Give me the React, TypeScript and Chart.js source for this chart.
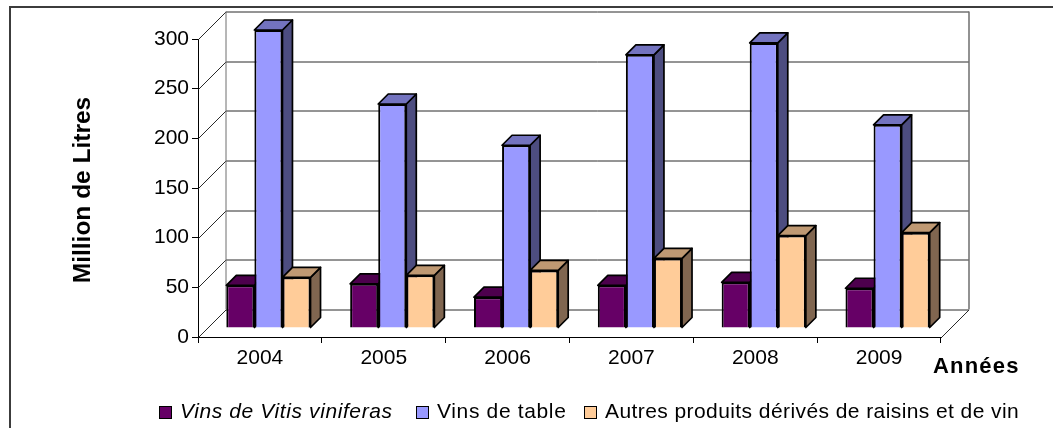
import React, { useEffect, useRef } from "react";
import { Chart, registerables } from "chart.js";

Chart.register(...registerables);

const years = ["2004", "2005", "2006", "2007", "2008", "2009"];
const viniferas = [43, 44.5, 31, 43, 46, 40];
const table = [300, 225.5, 184, 275, 287, 204.5];
const autres = [51, 53, 58, 70, 93, 96];

const labelViniferas = "Vins de Vitis viniferas";
const labelTable = "Vins de table";
const labelAutres = "Autres produits dérivés de raisins et de vin";

const FAMILY = '"Liberation Sans", Arial, sans-serif';
const FLOOR_DEPTH = 27.5;
const BAR_SHIFT_X = 8.5;
const BAR_SHIFT_Y = 9;
const BAR_DEPTH = 10;

const shades: Record<string, { front: string; side: string; top: string }> = {
  v: { front: "#660066", side: "#330033", top: "#4d004d" },
  t: { front: "#9999ff", side: "#4d4d80", top: "#7373bf" },
  a: { front: "#ffcc99", side: "#806650", top: "#bf9973" },
};
const shadeKeys = ["v", "t", "a"];

const wallsPlugin = {
  id: "walls",
  beforeDatasetsDraw(chart: any) {
    const { ctx, chartArea, scales } = chart;
    const y = scales.y;
    const l = chartArea.left + 0.5;
    const r = chartArea.right + 0.5;
    const bottom = y.getPixelForValue(0);
    ctx.save();
    ctx.lineWidth = 1;
    y.ticks.forEach((t: any) => {
      const py = Math.round(y.getPixelForValue(t.value)) + 0.5;
      ctx.strokeStyle = "#2a2a2a";
      ctx.beginPath();
      ctx.moveTo(l, py);
      ctx.lineTo(l + FLOOR_DEPTH, py - FLOOR_DEPTH);
      ctx.lineTo(r + FLOOR_DEPTH, py - FLOOR_DEPTH);
      ctx.stroke();
    });
    const top = y.getPixelForValue(y.max);
    ctx.strokeStyle = "#6e6e6e";
    ctx.lineWidth = 1.5;
    ctx.beginPath();
    ctx.moveTo(r + FLOOR_DEPTH, Math.round(top) - FLOOR_DEPTH);
    ctx.lineTo(r + FLOOR_DEPTH, Math.round(bottom) - FLOOR_DEPTH);
    ctx.stroke();
    ctx.lineWidth = 1;
    ctx.beginPath();
    ctx.moveTo(l + FLOOR_DEPTH, Math.round(top) - FLOOR_DEPTH);
    ctx.lineTo(l + FLOOR_DEPTH, Math.round(bottom) - FLOOR_DEPTH);
    ctx.stroke();
    ctx.strokeStyle = "#2a2a2a";
    ctx.beginPath();
    ctx.moveTo(r, Math.round(bottom) + 0.5);
    ctx.lineTo(r + FLOOR_DEPTH, Math.round(bottom) + 0.5 - FLOOR_DEPTH);
    ctx.stroke();
    ctx.restore();
  },
};

// Side and top faces are painted left to right, then the library's own bars
// (the front faces) are drawn on top inside the same shifted plane.
const depthPlugin = {
  id: "depth",
  beforeDatasetsDraw(chart: any) {
    const { ctx } = chart;
    ctx.save();
    ctx.translate(BAR_SHIFT_X, -BAR_SHIFT_Y);
    ctx.lineWidth = 1.7;
    ctx.strokeStyle = "#000";
    ctx.lineJoin = "round";
    chart.getSortedVisibleDatasetMetas().forEach((meta: any) => {
      const shade = shades[shadeKeys[meta.index]];
      meta.data.forEach((bar: any) => {
        const p = bar.getProps(["x", "y", "base", "width"], true);
        const x0 = p.x - p.width / 2;
        const x1 = p.x + p.width / 2;
        ctx.fillStyle = shade.side;
        ctx.beginPath();
        ctx.moveTo(x1, p.y);
        ctx.lineTo(x1 + BAR_DEPTH, p.y - BAR_DEPTH);
        ctx.lineTo(x1 + BAR_DEPTH, p.base - BAR_DEPTH);
        ctx.lineTo(x1, p.base);
        ctx.closePath();
        ctx.fill();
        ctx.stroke();
        ctx.fillStyle = shade.top;
        ctx.beginPath();
        ctx.moveTo(x0, p.y);
        ctx.lineTo(x0 + BAR_DEPTH, p.y - BAR_DEPTH);
        ctx.lineTo(x1 + BAR_DEPTH, p.y - BAR_DEPTH);
        ctx.lineTo(x1, p.y);
        ctx.closePath();
        ctx.fill();
        ctx.stroke();
      });
    });
  },
  afterDatasetsDraw(chart: any) {
    chart.ctx.restore();
  },
};

const decorPlugin = {
  id: "decor",
  afterDraw(chart: any) {
    const { ctx, width, height } = chart;
    ctx.save();
    ctx.strokeStyle = "#3c3c3c";
    ctx.lineWidth = 2;
    ctx.beginPath();
    ctx.moveTo(10, height);
    ctx.lineTo(10, 7);
    ctx.lineTo(width, 7);
    ctx.stroke();

    ctx.fillStyle = "#000";
    ctx.textBaseline = "alphabetic";
    ctx.textAlign = "left";
    ctx.font = `bold 22px ${FAMILY}`;
    (ctx as any).letterSpacing = "1.2px";
    ctx.fillText("Années", 933, 372.5);

    ctx.save();
    ctx.translate(90, 190);
    ctx.rotate(-Math.PI / 2);
    ctx.textAlign = "center";
    ctx.font = `bold 24.5px ${FAMILY}`;
    (ctx as any).letterSpacing = "0px";
    ctx.fillText("Million de Litres", 0, 0);
    ctx.restore();

    const entries = [
      { swatch: 159, text: 180, style: "italic ", key: 0, spacing: "0.6px" },
      { swatch: 416, text: 437, style: "", key: 1, spacing: "0.65px" },
      { swatch: 584, text: 605, style: "", key: 2, spacing: "0.42px" },
    ];
    entries.forEach((e) => {
      ctx.fillStyle = shades[shadeKeys[e.key]].front;
      ctx.strokeStyle = "#000";
      ctx.lineWidth = 1;
      ctx.fillRect(e.swatch + 0.5, 406.5, 12, 12);
      ctx.strokeRect(e.swatch + 0.5, 406.5, 12, 12);
      ctx.fillStyle = "#000";
      ctx.font = `${e.style}21px ${FAMILY}`;
      (ctx as any).letterSpacing = e.spacing;
      ctx.fillText(chart.data.datasets[e.key].label, e.text, 418);
    });
    ctx.restore();
  },
};

export default function App() {
  const ref = useRef<HTMLCanvasElement>(null);
  useEffect(() => {
    const chart = new Chart(ref.current as HTMLCanvasElement, {
      type: "bar",
      data: {
        labels: years,
        datasets: [
          { label: labelViniferas, data: viniferas, backgroundColor: shades.v.front },
          { label: labelTable, data: table, backgroundColor: shades.t.front },
          { label: labelAutres, data: autres, backgroundColor: shades.a.front },
        ].map((d) => ({ ...d, borderColor: "#000", borderWidth: 2, clip: false })) as any,
      },
      plugins: [wallsPlugin, depthPlugin, decorPlugin],
      options: {
        responsive: false,
        animation: false,
        layout: { padding: { top: 39, right: 112, bottom: 0, left: 0 } },
        plugins: { legend: { display: false }, tooltip: { enabled: false } },
        datasets: { bar: { categoryPercentage: 0.68, barPercentage: 1 } },
        scales: {
          x: {
            afterFit: (s: any) => {
              s.height = 91;
            },
            grid: {
              offset: true,
              drawOnChartArea: false,
              color: "#000",
              tickLength: 6,
            },
            border: { color: "#000", width: 1 },
            ticks: {
              color: "#000",
              font: { family: FAMILY, size: 21 },
              padding: 3,
              maxRotation: 0,
            },
          },
          y: {
            min: 0,
            max: 300,
            afterFit: (s: any) => {
              s.width = 198;
            },
            grid: { drawOnChartArea: false, color: "#000", tickLength: 6 },
            border: { color: "#000", width: 1 },
            ticks: {
              stepSize: 50,
              color: "#000",
              font: { family: FAMILY, size: 21 },
              padding: 3,
            },
          },
        },
      } as any,
    });
    return () => chart.destroy();
  }, []);
  return (
    <div style={{ position: "fixed", left: 0, top: 0, width: 1053, height: 428, background: "#fff" }}>
      <canvas ref={ref} width={1053} height={428} style={{ display: "block" }} />
    </div>
  );
}
